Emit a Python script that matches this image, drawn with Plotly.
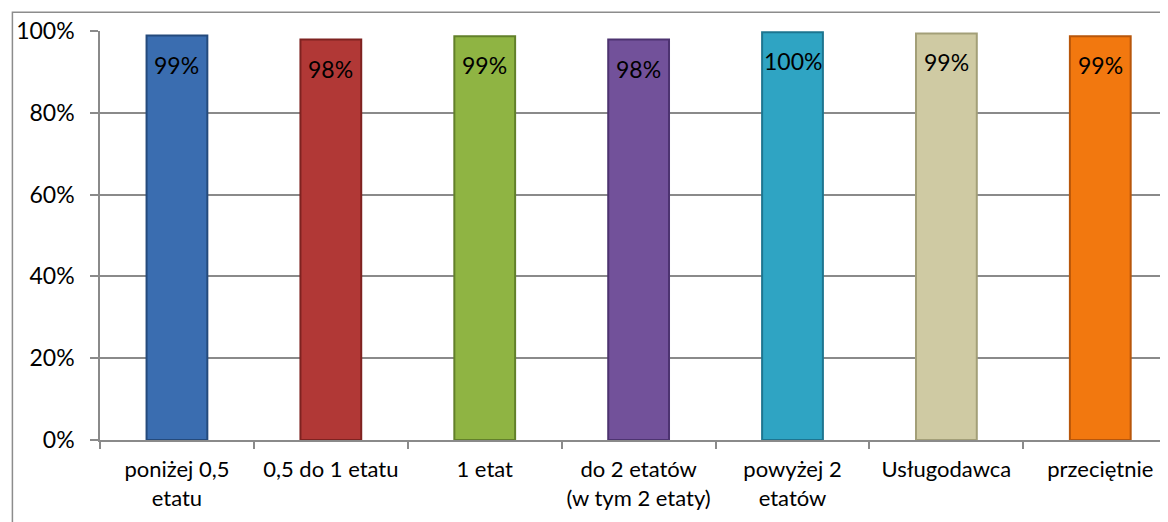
import plotly.graph_objects as go

categories = [
    "poniżej 0,5<br>etatu",
    "0,5 do 1 etatu",
    "1 etat",
    "do 2 etatów<br>(w tym 2 etaty)",
    "powyżej 2<br>etatów",
    "Usługodawca",
    "przeciętnie",
]
values = [98.9, 97.9, 98.7, 97.9, 99.7, 99.4, 98.7]
fill_colors = ["#3a6db0", "#b13836", "#8fb443", "#72519a", "#2fa4c3", "#cfcaa3", "#f2780f"]
edge_colors = ["#244a7c", "#7e2220", "#62802a", "#4d3370", "#1d7590", "#a39f78", "#b8560a"]
y_ticks = [0, 20, 40, 60, 80, 100]

FONT = "Lato"
GRID = "#8a8a8a"

fig = go.Figure()
fig.add_trace(go.Bar(
    x=categories,
    y=values,
    width=0.395,
    marker=dict(color=fill_colors, line=dict(color=edge_colors, width=2)),
    hoverinfo="x+y",
    showlegend=False,
))

for c, v in zip(categories, values):
    fig.add_annotation(
        x=c, y=v, text=f"{v:.0f}%", showarrow=False,
        yanchor="middle", yshift=-29,
        font=dict(family=FONT, size=23, color="#000000"),
    )

# outer chart border (chart area frame, cropped at right and bottom)
fig.add_shape(
    type="rect", xref="paper", yref="paper",
    x0=-88 / 1073, x1=1.2, y0=-0.5, y1=1 + 19 / 412,
    line=dict(color="#8c8c8c", width=1.5), fillcolor="rgba(0,0,0,0)", layer="below",
)

fig.update_layout(
    width=1168, height=522,
    margin=dict(l=87, r=8, t=20, b=90),
    paper_bgcolor="white", plot_bgcolor="white",
    bargap=0.6,
    font=dict(family=FONT, color="#000000"),
    xaxis=dict(
        type="category",
        range=[-0.5, 6.44],
        showline=True, linecolor=GRID, linewidth=2,
        ticks="outside", tickson="boundaries", ticklen=7, tickcolor=GRID, tickwidth=1.5,
        ticklabelstandoff=9,
        tickfont=dict(family=FONT, size=22, color="#000000"),
        showgrid=False,
    ),
    yaxis=dict(
        range=[0, 100],
        tickvals=y_ticks,
        ticktext=[f"{t}%" for t in y_ticks],
        showline=True, linecolor=GRID, linewidth=1.5,
        ticks="outside", ticklen=8, tickcolor=GRID, tickwidth=1.5,
        ticklabelstandoff=11,
        tickfont=dict(family=FONT, size=23, color="#000000"),
        showgrid=True, gridcolor=GRID, gridwidth=1.5,
        zeroline=False,
    ),
)

fig.write_html("out.html")
